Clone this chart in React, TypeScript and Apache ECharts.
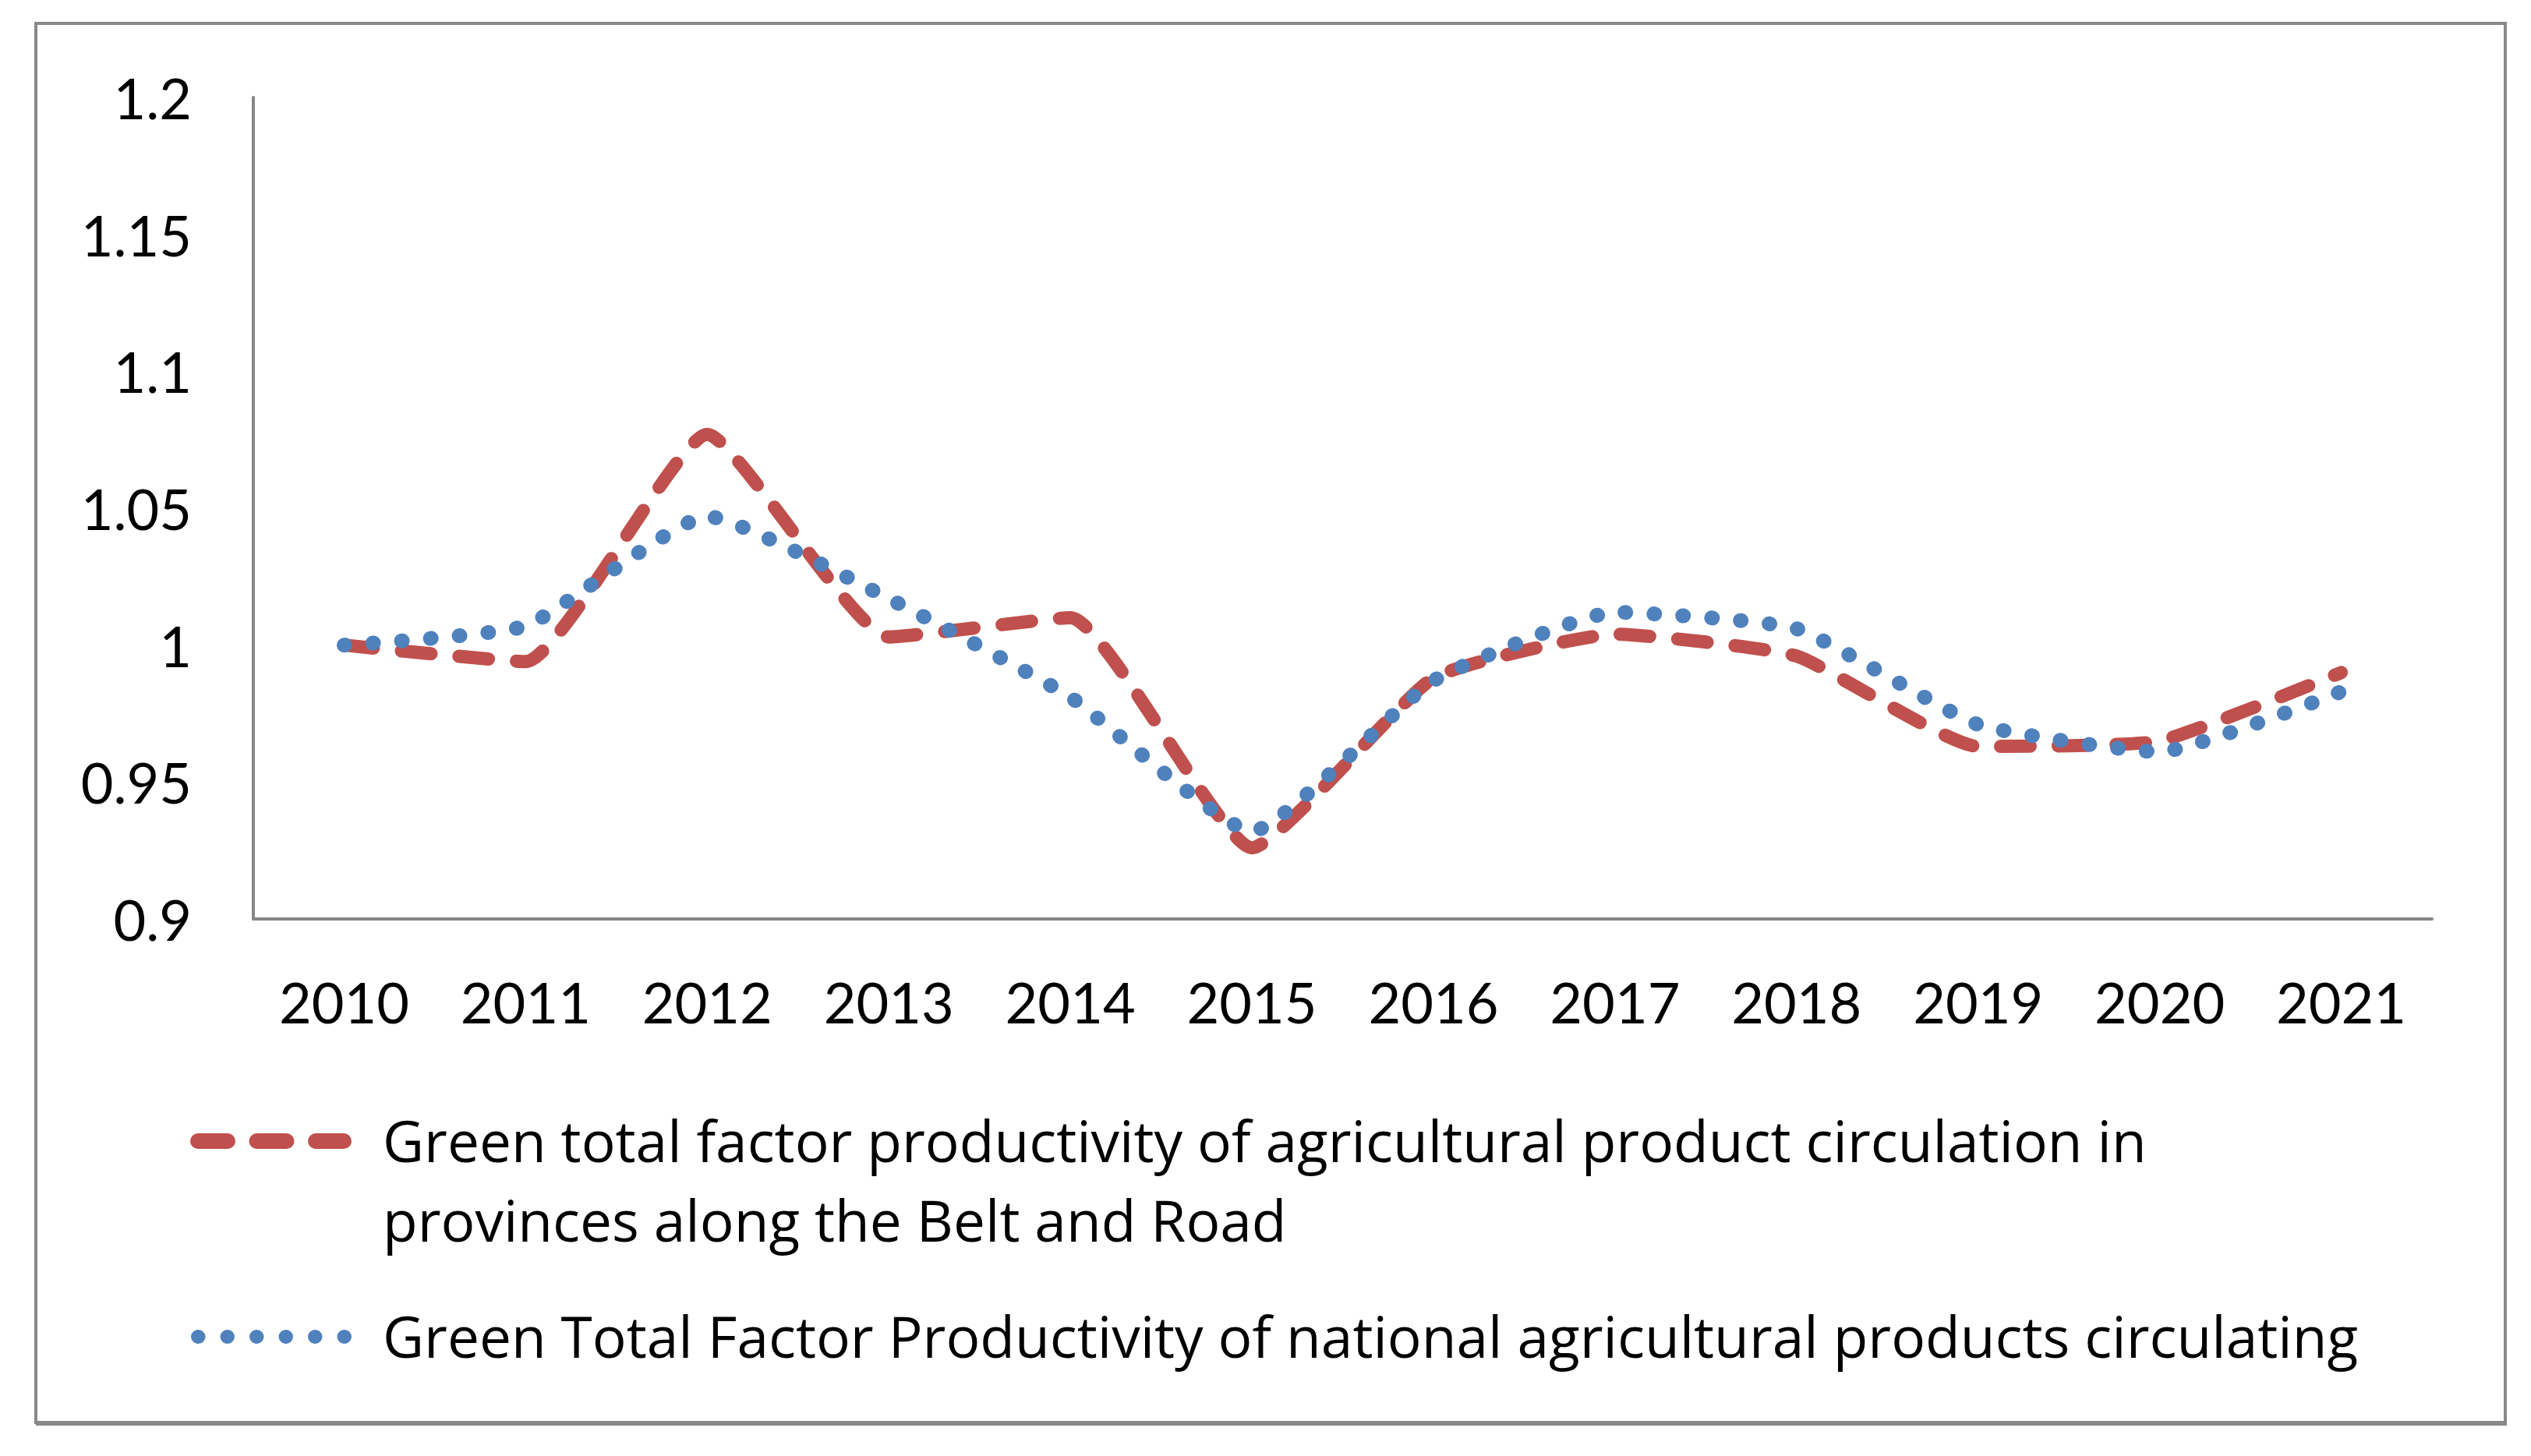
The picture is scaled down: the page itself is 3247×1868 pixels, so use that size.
import React, { useEffect, useRef } from 'react';
import * as echarts from 'echarts';

const years = ['2010', '2011', '2012', '2013', '2014', '2015', '2016', '2017', '2018', '2019', '2020', '2021'];

// Belt and Road provinces (red dashed)
const beltRoad = [1.0, 0.994, 1.077, 1.003, 1.01, 0.926, 0.988, 1.004, 0.996, 0.963, 0.965, 0.99];
// national (blue dotted)
const national = [1.0, 1.007, 1.047, 1.017, 0.981, 0.932, 0.987, 1.012, 1.006, 0.971, 0.961, 0.983];

const yTicks = [0.9, 0.95, 1, 1.05, 1.1, 1.15, 1.2];

const beltRoadLines = [
  'Green total factor productivity of agricultural product circulation in',
  'provinces along the Belt and Road',
];
const nationalName = 'Green Total Factor Productivity of national agricultural products circulating';

const RED = '#C0504D';
const BLUE = '#4F81BD';
const GREY = '#868686';
const FONT = 'Lato';
const LEGEND_FONT = '"Open Sans"';

const App: React.FC = () => {
  const chartRef = useRef<HTMLDivElement>(null);

  useEffect(() => {
    if (!chartRef.current) return;
    const chart = echarts.init(chartRef.current, undefined, { renderer: 'svg' });

    const legendText = (text: string, y: number) => ({
      type: 'text' as const,
      x: 491,
      y,
      style: {
        text,
        fill: '#000',
        font: `73px ${LEGEND_FONT}`,
        verticalAlign: 'middle' as const,
      },
      silent: true,
    });

    const option: echarts.EChartsOption = {
      animation: false,
      backgroundColor: '#fff',
      textStyle: { fontFamily: FONT },
      grid: { left: 325, top: 125, right: 127, bottom: 689 },
      xAxis: {
        type: 'category',
        data: years,
        boundaryGap: true,
        axisLine: { lineStyle: { color: GREY, width: 4 } },
        axisTick: { show: false },
        axisLabel: { color: '#000', fontSize: 72, fontFamily: FONT, margin: 70 },
      },
      yAxis: {
        type: 'value',
        min: yTicks[0],
        max: yTicks[yTicks.length - 1],
        interval: 0.05,
        axisLine: { show: true, lineStyle: { color: GREY, width: 4 } },
        axisTick: { show: false },
        splitLine: { show: false },
        axisLabel: {
          color: '#000',
          fontSize: 72,
          fontFamily: FONT,
          margin: 79,
          formatter: (v: number) => String(parseFloat(v.toFixed(2))),
        },
      },
      series: [
        {
          name: beltRoadLines.join(' '),
          type: 'line',
          data: beltRoad,
          smooth: 0.15,
          showSymbol: false,
          lineStyle: { color: RED, width: 17, type: [38, 36], cap: 'round', join: 'round' },
          z: 2,
        },
        {
          name: nationalName,
          type: 'line',
          data: national,
          smooth: 0.15,
          showSymbol: false,
          lineStyle: { color: BLUE, width: 19, type: [1, 36], cap: 'round', join: 'round' },
          z: 3,
        },
      ],
      graphic: [
        {
          type: 'rect',
          shape: { x: 46, y: 30, width: 3168, height: 1795 },
          style: { fill: 'none', stroke: '#898989', lineWidth: 4 },
          silent: true,
        },
        {
          type: 'line',
          shape: { x1: 46, y1: 1826, x2: 3216, y2: 1826 },
          style: { stroke: '#898989', lineWidth: 6 },
          silent: true,
        },
        // legend: red dashed sample + two-line label
        {
          type: 'line',
          shape: { x1: 254, y1: 1464, x2: 441, y2: 1464 },
          style: { stroke: RED, lineWidth: 20, lineDash: [38, 37.5], lineCap: 'round' },
          silent: true,
        },
        legendText(beltRoadLines[0], 1462),
        legendText(beltRoadLines[1], 1564),
        // legend: blue dotted sample + label
        {
          type: 'line',
          shape: { x1: 254, y1: 1715, x2: 442, y2: 1715 },
          style: { stroke: BLUE, lineWidth: 18, lineDash: [0.5, 37], lineCap: 'round' },
          silent: true,
        },
        legendText(nationalName, 1713),
      ],
    };

    chart.setOption(option);

    return () => {
      chart.dispose();
    };
  }, []);

  return (
    <div style={{ position: 'fixed', left: 0, top: 0, width: 3247, height: 1868, background: '#fff' }}>
      <div ref={chartRef} style={{ width: 3247, height: 1868 }} />
    </div>
  );
};

export default App;
